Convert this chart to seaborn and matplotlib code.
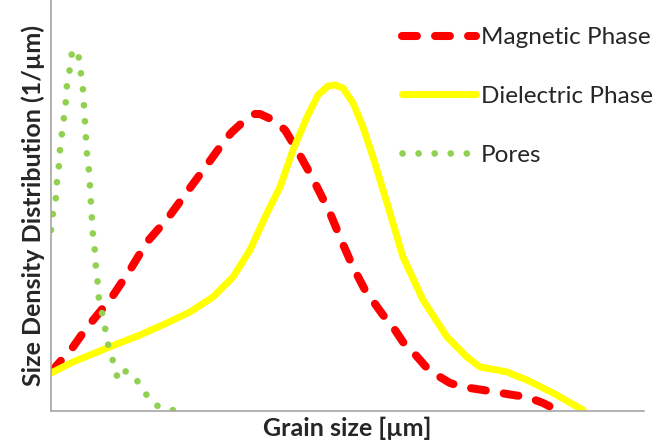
import pandas as pd
import numpy as np
import matplotlib
matplotlib.use("Agg")
import matplotlib.pyplot as plt
import seaborn as sns

# Curves (arbitrary units: x grain size, y density)
magnetic_x = [0, 22, 34, 61, 79, 96, 117, 136, 156, 174, 181, 194, 204, 209, 222, 234, 246, 261,
              279, 291, 302, 314, 332, 342, 352, 362, 376, 384, 399, 412, 432, 444, 462, 476, 492, 506]
magnetic_y = [39, 64, 81, 114, 141, 169, 193, 219, 246, 271, 279, 291, 297, 297, 291, 281, 261, 234,
              198, 169, 144, 121, 96, 84, 69, 59, 43, 37, 28, 24, 21, 19, 16, 14, 8, 1]

dielectric_x = [0, 22, 56, 89, 116, 139, 162, 182, 199, 216, 229, 242, 256, 267, 277, 284, 292,
                302, 312, 322, 329, 336, 352, 372, 396, 416, 429, 446, 456, 476, 502, 532]
dielectric_y = [38, 49, 63, 76, 88, 99, 114, 134, 161, 198, 224, 261, 294, 316, 325, 326, 323,
                308, 284, 254, 231, 208, 154, 111, 74, 54, 44, 41, 39, 31, 18, 1]

pores_x = [0, 2, 5, 6, 8, 9, 11, 13, 15, 16, 19, 21, 24, 28, 30, 32, 33, 34, 35, 36, 38, 39, 40,
           41, 42, 44, 45, 47, 48, 52, 55, 58, 63, 67, 75, 85, 94, 104, 120, 136]
pores_y = [181, 198, 214, 230, 246, 262, 278, 294, 311, 327, 343, 359, 362, 353, 337, 321, 304,
           288, 272, 256, 240, 224, 207, 191, 175, 159, 142, 126, 110, 94, 78, 62, 47, 31, 40, 32,
           18, 6, 1, 0]

sns.set_style("white")
plt.rcParams['font.family'] = ['Lato', 'DejaVu Sans']

fig = plt.figure(figsize=(6.67, 4.47), dpi=100)
ax = fig.add_axes([51 / 667, 36 / 447, 593 / 667, 411 / 447])

sns.lineplot(x=magnetic_x, y=magnetic_y, ax=ax, color="#FF0000", lw=5.8,
             dashes=(1.85, 2.25), dash_capstyle="round", sort=False, estimator=None,
             label="Magnetic Phase")
sns.lineplot(x=dielectric_x, y=dielectric_y, ax=ax, color="#FFFF00", lw=5,
             solid_capstyle="round", solid_joinstyle="round", sort=False, estimator=None,
             label="Dielectric Phase")
sns.lineplot(x=pores_x, y=pores_y, ax=ax, color="#92D050", lw=4.8,
             dashes=(0.01, 2.4), dash_capstyle="round", sort=False, estimator=None,
             label="Pores")

ax.set_xlim(0, 593)
ax.set_ylim(0, 411)
ax.set_xticks([])
ax.set_yticks([])
for side in ["top", "right"]:
    ax.spines[side].set_visible(False)
for side in ["left", "bottom"]:
    ax.spines[side].set_color("#a6a6a6")
    ax.spines[side].set_linewidth(1.2)

ax.set_xlabel("Grain size [µm]", fontsize=18, fontweight="bold", labelpad=4)
ax.set_ylabel("Size Density Distribution (1/µm)", fontsize=18, fontweight="bold", labelpad=4)

ax.legend(loc="upper left", bbox_to_anchor=(385 / 667, 1 - 10 / 447), bbox_transform=fig.transFigure,
          frameon=False, fontsize=17.5, handlelength=3.05, handletextpad=0.2,
          labelspacing=1.56, borderaxespad=0.3)

plt.savefig("out.png", dpi=100)
plt.close()
